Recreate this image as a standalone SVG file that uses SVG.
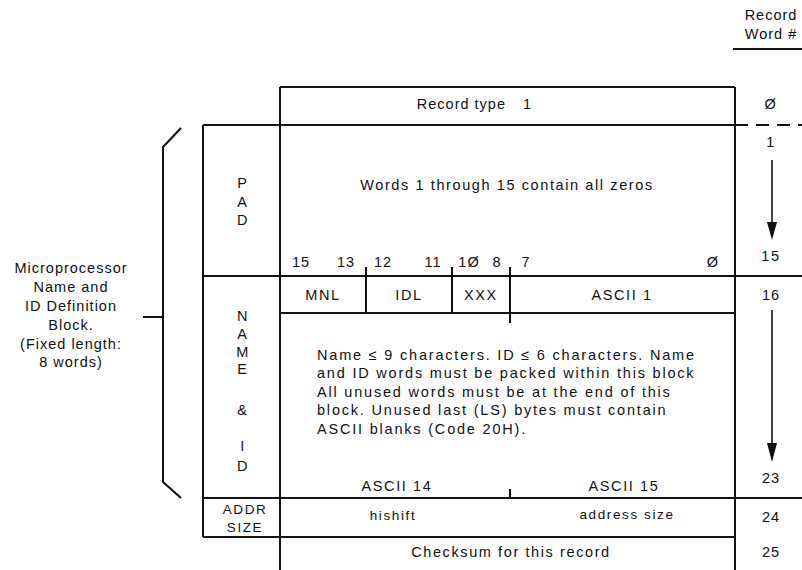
<svg xmlns="http://www.w3.org/2000/svg" width="802" height="570" viewBox="0 0 802 570">
<style>
text{font-family:"Liberation Sans",Arial,Helvetica,sans-serif;font-size:14.5px;fill:#111;letter-spacing:1.6px}
.c{text-anchor:middle}
.ln{stroke:#111;stroke-width:2;fill:none}
.thin{stroke:#111;stroke-width:1.6;fill:none}
.sm{font-size:13.5px;letter-spacing:1.6px}
.nar{letter-spacing:1px}
.body{letter-spacing:1.8px}
</style>
<rect width="802" height="570" fill="#fff"/>
<g id="connectors">
<line class="ln" x1="733" y1="49" x2="802" y2="49"/>
<line class="ln" x1="280" y1="87" x2="735" y2="87"/>
<line class="ln" x1="203" y1="125" x2="735" y2="125"/>
<line class="ln" x1="735" y1="125" x2="802" y2="125" stroke-dasharray="13 8"/>
<line class="ln" x1="203" y1="276" x2="802" y2="276"/>
<line class="ln" x1="280" y1="313" x2="735" y2="313"/>
<line class="ln" x1="203" y1="498" x2="802" y2="498"/>
<line class="ln" x1="203" y1="537" x2="735" y2="537"/>
<line class="ln" x1="280" y1="87" x2="280" y2="570"/>
<line class="ln" x1="203" y1="125" x2="203" y2="537"/>
<line class="ln" x1="735" y1="87" x2="735" y2="570"/>
<line class="ln" x1="366" y1="267" x2="366" y2="313"/>
<line class="ln" x1="452" y1="267" x2="452" y2="313"/>
<line class="ln" x1="510" y1="267" x2="510" y2="323"/>
<line class="ln" x1="510" y1="489" x2="510" y2="498"/>
<polyline class="ln" points="181,128 163,147 163,482 181,498"/>
<line class="ln" x1="143" y1="317" x2="163" y2="317"/>
<line class="thin" x1="772" y1="160" x2="772" y2="226"/>
<polygon points="767,222 777,222 772,240" fill="#111"/>
<line class="thin" x1="772" y1="310" x2="772" y2="448"/>
<polygon points="767,443 777,443 772,462" fill="#111"/>
</g>
<g id="header">
<text class="c nar" x="771" y="20">Record</text>
<text class="c nar" x="771" y="39">Word #</text>
</g>
<g id="record-type">
<text class="nar" x="506" y="109" text-anchor="end">Record type</text>
<text x="523" y="109">1</text>
<text class="c" x="771" y="109">Ø</text>
</g>
<g id="pad">
<text class="c" x="243" y="188">P</text>
<text class="c" x="243" y="207">A</text>
<text class="c" x="243" y="225">D</text>
<text class="c" x="507" y="190">Words 1 through 15 contain all zeros</text>
<text class="c" x="771" y="147">1</text>
<text class="c" x="771" y="261">15</text>
</g>
<g id="bits">
<text class="c nar" x="301" y="267">15</text>
<text class="c nar" x="346" y="267">13</text>
<text class="c nar" x="383" y="267">12</text>
<text class="c nar" x="433" y="267">11</text>
<text class="c nar" x="469" y="267">1Ø</text>
<text class="c nar" x="497" y="267">8</text>
<text class="c nar" x="526" y="267">7</text>
<text class="c nar" x="713" y="267">Ø</text>
</g>
<g id="name-id">
<text class="c" x="323" y="300">MNL</text>
<text class="c" x="409" y="300">IDL</text>
<text class="c" x="481" y="300">XXX</text>
<text class="c" x="622" y="300">ASCII 1</text>
<text class="c nar" x="771" y="300">16</text>
<text class="c" x="243" y="321">N</text>
<text class="c" x="243" y="339">A</text>
<text class="c" x="243" y="357">M</text>
<text class="c" x="243" y="374">E</text>
<text class="c" x="243" y="415">&amp;</text>
<text class="c" x="243" y="451">I</text>
<text class="c" x="243" y="471">D</text>
<text class="body" x="317" y="360">Name ≤ 9 characters. ID ≤ 6 characters. Name</text>
<text class="body" x="317" y="378">and ID words must be packed within this block</text>
<text class="body" x="317" y="397">All unused words must be at the end of this</text>
<text class="body" x="317" y="415">block. Unused last (LS) bytes must contain</text>
<text class="body" x="317" y="434">ASCII blanks (Code 20H).</text>
<text class="c" x="397" y="491">ASCII 14</text>
<text class="c" x="624" y="491">ASCII 15</text>
<text class="c nar" x="771" y="483">23</text>
</g>
<g id="addr-size">
<text class="c sm" x="245" y="514">ADDR</text>
<text class="c sm" x="245" y="532">SIZE</text>
<text class="c sm" x="393" y="520">hishift</text>
<text class="c sm" x="627" y="519">address size</text>
<text class="c nar" x="771" y="522">24</text>
</g>
<g id="checksum">
<text class="c" x="511" y="557">Checksum for this record</text>
<text class="c nar" x="771" y="557">25</text>
</g>
<g id="side-label">
<text class="c nar" x="71" y="273">Microprocessor</text>
<text class="c nar" x="71" y="292">Name and</text>
<text class="c nar" x="71" y="311">ID Definition</text>
<text class="c nar" x="71" y="330">Block.</text>
<text class="c nar" x="71" y="349">(Fixed length:</text>
<text class="c nar" x="71" y="367">8 words)</text>
</g>
</svg>
